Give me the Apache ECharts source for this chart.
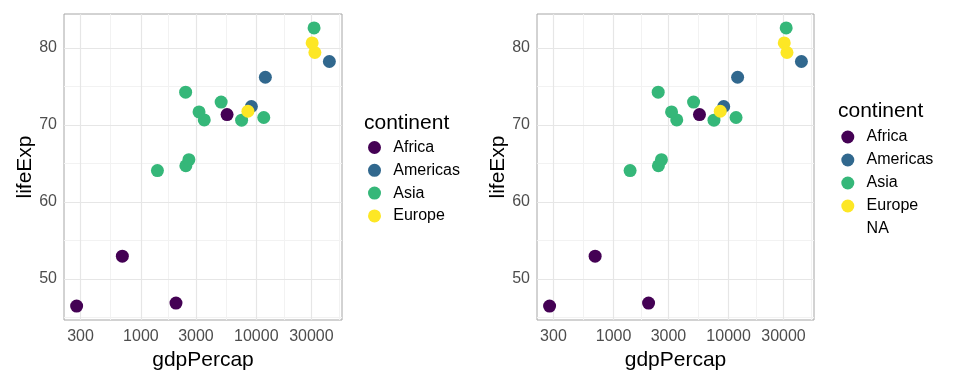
<!DOCTYPE html>
<html><head><meta charset="utf-8">
<script src="https://cdn.jsdelivr.net/npm/echarts@6/dist/echarts.min.js"></script>
<style>html,body{margin:0;padding:0;background:#fff}#c{width:960px;height:384px}</style>
</head><body><div id="c"></div>
<script>
// Gapminder 2007 subset
const countries = ['China','India','United States','Indonesia','Brazil','Pakistan','Bangladesh','Nigeria','Japan','Mexico','Philippines','Vietnam','Germany','Egypt','Ethiopia','Turkey','Iran','Thailand','Congo, Dem. Rep.','France'];
const continents = ['Asia','Asia','Americas','Asia','Americas','Asia','Asia','Africa','Asia','Americas','Asia','Asia','Europe','Africa','Africa','Europe','Asia','Asia','Africa','Europe'];
const gdpPercap = [4959.1,2452.2,42951.7,3540.7,9065.8,2605.9,1391.3,2014.0,31656.1,11977.6,3190.5,2441.6,32170.4,5581.2,690.8,8458.3,11605.7,7458.4,277.6,30470.0];
const lifeExp = [72.961,64.698,78.242,70.650,72.390,65.483,64.062,46.859,82.603,76.195,71.688,74.249,79.406,71.338,52.947,71.777,70.964,70.616,46.462,80.657];

const continentLevels = ['Africa','Americas','Asia','Europe'];
const continentColors = ['#440154','#31688E','#35B779','#FDE725'];
const xTicks = [300,1000,3000,10000,30000];
const yTicks = [50,60,70,80];

// ggplot-like 5% expansion (log space for x)
const lx = gdpPercap.map(v => Math.log10(v));
const lxMin = Math.min(...lx), lxMax = Math.max(...lx), lxPad = 0.05*(lxMax-lxMin);
const xMin = Math.pow(10, lxMin-lxPad), xMax = Math.pow(10, lxMax+lxPad);
const yLo = Math.min(...lifeExp), yHi = Math.max(...lifeExp), yPad = 0.05*(yHi-yLo);
const yMin = yLo-yPad, yMax = yHi+yPad;

// minor breaks: midpoints between major breaks (log space for x), extended by one break each side
function minorBreaks(br, lo, hi, tf, inv) {
  let b = br.map(tf);
  const d0 = b[1]-b[0], d1 = b[b.length-1]-b[b.length-2];
  if (tf(lo) < b[0]) b = [b[0]-d0, ...b];
  if (tf(hi) > b[b.length-1]) b = [...b, b[b.length-1]+d1];
  const out = [];
  for (let i=0;i<b.length-1;i++){ const m=(b[i]+b[i+1])/2; if (m>tf(lo)&&m<tf(hi)) out.push(inv(m)); }
  return out;
}
const xMinor = minorBreaks(xTicks, xMin, xMax, Math.log10, v=>Math.pow(10,v));
const yMinor = minorBreaks(yTicks, yMin, yMax, v=>v, v=>v);

const FONT = 'Liberation Sans, Arial, sans-serif';
const grids = [{left:64, top:14, width:278, height:306}, {left:537, top:14, width:277, height:306}];

const xAxes = [], yAxes = [], series = [];
grids.forEach((g, gi) => {
  xAxes.push({
    type:'log', gridIndex:gi, min:xMin, max:xMax,
    axisLine:{show:false}, axisTick:{show:false}, splitLine:{show:false},
    axisLabel:{customValues:xTicks, formatter:v=>String(Math.round(v)), fontSize:16, color:'#4d4d4d', margin:9, fontFamily:FONT},
    name:'gdpPercap', nameLocation:'middle', nameGap:29,
    nameTextStyle:{fontSize:21, color:'#000', fontFamily:FONT}
  });
  yAxes.push({
    type:'value', gridIndex:gi, min:yMin, max:yMax,
    axisLine:{show:false}, axisTick:{show:false}, splitLine:{show:false},
    axisLabel:{customValues:yTicks, formatter:v=>String(Math.round(v)), fontSize:16, color:'#4d4d4d', margin:7, fontFamily:FONT},
    name:'lifeExp', nameLocation:'middle', nameGap:28,
    nameTextStyle:{fontSize:21, color:'#000', fontFamily:FONT}
  });
  const lines = [];
  xMinor.forEach(v => lines.push({xAxis:v, lineStyle:{color:'#f2f2f2', width:1, type:'solid'}}));
  yMinor.forEach(v => lines.push({yAxis:v, lineStyle:{color:'#f2f2f2', width:1, type:'solid'}}));
  xTicks.forEach(v => lines.push({xAxis:v, lineStyle:{color:'#e6e6e6', width:1.2, type:'solid'}}));
  yTicks.forEach(v => lines.push({yAxis:v, lineStyle:{color:'#e6e6e6', width:1.2, type:'solid'}}));
  series.push({
    type:'scatter', name:'_grid'+gi, xAxisIndex:gi, yAxisIndex:gi, data:[], silent:true,
    markLine:{silent:true, symbol:['none','none'], label:{show:false}, animation:false,
              lineStyle:{type:'solid'}, emphasis:{disabled:true}, data:lines}
  });
  continentLevels.forEach((c, ci) => {
    const d = [];
    countries.forEach((n, i) => { if (continents[i]===c) d.push([gdpPercap[i], lifeExp[i]]); });
    series.push({
      type:'scatter', name:c, xAxisIndex:gi, yAxisIndex:gi, data:d, z:10,
      symbol:'circle', symbolSize:13, itemStyle:{color:continentColors[ci], opacity:1}
    });
  });
});
// empty NA entry for the second legend
series.push({type:'scatter', name:'NA', xAxisIndex:1, yAxisIndex:1, data:[], itemStyle:{color:'rgba(0,0,0,0)'}});

const chart = echarts.init(document.getElementById('c'), null, {renderer:'canvas'});
chart.setOption({
  animation:false,
  backgroundColor:'#fff',
  grid: grids.map(g => Object.assign({show:true, borderColor:'#a6a6a6', borderWidth:1, backgroundColor:'transparent'}, g)),
  xAxis:xAxes, yAxis:yAxes,
  title:[
    {text:'continent', left:364, top:112.5, padding:0, textStyle:{fontSize:21, fontWeight:'normal', color:'#000', fontFamily:FONT}},
    {text:'continent', left:838, top:101, padding:0, textStyle:{fontSize:21, fontWeight:'normal', color:'#000', fontFamily:FONT}}
  ],
  legend:[
    {data:continentLevels, orient:'vertical', left:368, top:139.5, padding:0, itemWidth:27.6, itemHeight:13, itemGap:6.8,
     icon:'circle', selectedMode:false, textStyle:{fontSize:16, color:'#000', fontFamily:FONT}},
    {data:continentLevels.concat(['NA']), orient:'vertical', left:841.3, top:129, padding:0, itemWidth:27.6, itemHeight:13, itemGap:7,
     icon:'circle', selectedMode:false, textStyle:{fontSize:16, color:'#000', fontFamily:FONT}}
  ],
  series:series
});
</script></body></html>
